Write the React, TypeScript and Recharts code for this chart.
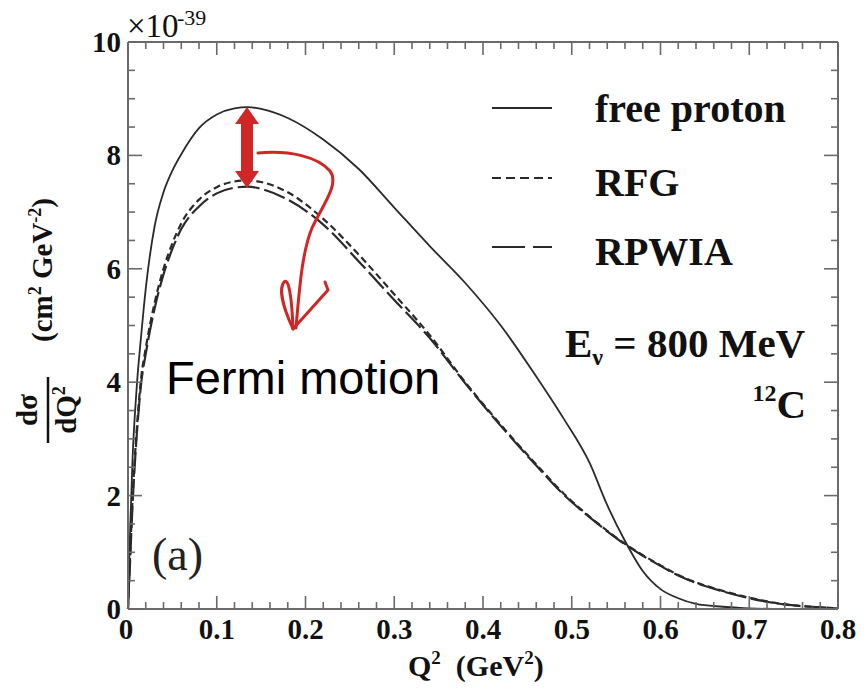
import React from 'react';
import { LineChart, Line, XAxis, YAxis } from 'recharts';

// Q^2 grid (GeV^2)
const q2 = [0, 0.002, 0.005, 0.01, 0.015, 0.02, 0.03, 0.04, 0.05, 0.06, 0.08, 0.1, 0.12, 0.135, 0.15, 0.18, 0.22, 0.26, 0.3, 0.34, 0.38, 0.42, 0.46, 0.49, 0.52, 0.54, 0.56, 0.58, 0.6, 0.62, 0.64, 0.67, 0.7, 0.74, 0.78, 0.8];
// dσ/dQ² in units of 1e-39 cm² GeV⁻²
const freeProton = [0, 1.2, 2.6, 3.95, 4.85, 5.65, 6.75, 7.35, 7.73, 8.02, 8.48, 8.72, 8.83, 8.85, 8.82, 8.66, 8.28, 7.76, 7.08, 6.4, 5.75, 5.0, 4.1, 3.38, 2.58, 1.83, 1.2, 0.67, 0.35, 0.19, 0.09, 0.04, 0.01, 0, 0, 0];
const rfg = [0, 0.8, 1.9, 3.2, 4.1, 4.6, 5.4, 6.0, 6.45, 6.8, 7.22, 7.44, 7.54, 7.56, 7.53, 7.35, 6.88, 6.25, 5.55, 4.83, 4.0, 3.25, 2.55, 2.05, 1.63, 1.38, 1.15, 0.95, 0.77, 0.6, 0.47, 0.32, 0.2, 0.08, 0.03, 0.01];
const rpwia = [0, 0.7, 1.8, 3.1, 4.0, 4.5, 5.3, 5.9, 6.35, 6.7, 7.1, 7.33, 7.43, 7.45, 7.41, 7.22, 6.78, 6.13, 5.45, 4.78, 3.98, 3.23, 2.53, 2.03, 1.62, 1.37, 1.14, 0.94, 0.76, 0.59, 0.46, 0.31, 0.19, 0.08, 0.03, 0.01];

const xTicks = Array.from({ length: 41 }, (_, i) => i / 50);
const yTicks = Array.from({ length: 21 }, (_, i) => i / 2);
const xMajorLabels = ['0', '0.1', '0.2', '0.3', '0.4', '0.5', '0.6', '0.7', '0.8'];
const yMajorLabels = ['0', '2', '4', '6', '8', '10'];

const data = q2.map((q, i) => ({ q, free: freeProton[i], rfg: rfg[i], rpwia: rpwia[i] }));

const FRAME = '#6a6a6a';
const CURVE = '#2a2a2a';
const RED = '#d02626';
const SERIF = '"Liberation Serif", "Times New Roman", serif';

const isXMajor = (v: number) => Math.abs(v * 10 - Math.round(v * 10)) < 1e-6;
const isYMajor = (v: number) => Math.abs(v / 2 - Math.round(v / 2)) < 1e-6;

const BottomTick = (props: any) => {
  const { x, y, payload } = props;
  const v = payload.value as number;
  const major = isXMajor(v);
  const y0 = y - 1;
  return (
    <g>
      <line x1={x} y1={y0} x2={x} y2={y0 - (major ? 12 : 6)} stroke={FRAME} strokeWidth={1.6} />
      {major && (
        <text x={x - (v === 0 ? 2 : 0)} y={y0 + 31} textAnchor="middle" fontFamily={SERIF} fontWeight="bold" fontSize={29} fill="#111">
          {xMajorLabels[Math.round(v * 10)]}
        </text>
      )}
    </g>
  );
};

const TopTick = (props: any) => {
  const { x, y, payload } = props;
  const major = isXMajor(payload.value);
  const y0 = y + 1;
  return <line x1={x} y1={y0} x2={x} y2={y0 + (major ? 12 : 6)} stroke={FRAME} strokeWidth={1.6} />;
};

const LeftTick = (props: any) => {
  const { x, y, payload } = props;
  const v = payload.value as number;
  const major = isYMajor(v);
  const x0 = x + 1;
  return (
    <g>
      <line x1={x0} y1={y} x2={x0 + (major ? 13 : 6)} y2={y} stroke={FRAME} strokeWidth={1.6} />
      {major && (
        <text x={x0 - 8} y={y + 10} textAnchor="end" fontFamily={SERIF} fontWeight="bold" fontSize={29} fill="#111">
          {yMajorLabels[Math.round(v / 2)]}
        </text>
      )}
    </g>
  );
};

const RightTick = (props: any) => {
  const { x, y, payload } = props;
  const major = isYMajor(payload.value);
  const x0 = x - 1;
  return <line x1={x0} y1={y} x2={x0 - (major ? 13 : 6)} y2={y} stroke={FRAME} strokeWidth={1.6} />;
};

export default function App() {
  return (
    <div style={{ position: 'absolute', left: 0, top: 0, width: 866, height: 688, background: '#fff' }}>
      <LineChart width={866} height={688} data={data} margin={{ top: 41, right: 27, bottom: 78, left: 127 }}>
        <XAxis
          xAxisId="b"
          dataKey="q"
          type="number"
          domain={[0, 0.8]}
          ticks={xTicks}
          interval={0}
          height={1}
          tickSize={0}
          tickMargin={0}
          tick={<BottomTick />}
          axisLine={{ stroke: FRAME, strokeWidth: 2 }}
          tickLine={false}
        />
        <XAxis
          xAxisId="t"
          orientation="top"
          dataKey="q"
          type="number"
          domain={[0, 0.8]}
          ticks={xTicks}
          interval={0}
          height={1}
          tickSize={0}
          tickMargin={0}
          tick={<TopTick />}
          axisLine={{ stroke: FRAME, strokeWidth: 2 }}
          tickLine={false}
        />
        <YAxis
          yAxisId="l"
          type="number"
          domain={[0, 10]}
          ticks={yTicks}
          interval={0}
          width={1}
          tickSize={0}
          tickMargin={0}
          tick={<LeftTick />}
          axisLine={{ stroke: FRAME, strokeWidth: 2 }}
          tickLine={false}
        />
        <YAxis
          yAxisId="r"
          orientation="right"
          type="number"
          domain={[0, 10]}
          ticks={yTicks}
          interval={0}
          width={1}
          tickSize={0}
          tickMargin={0}
          tick={<RightTick />}
          axisLine={{ stroke: FRAME, strokeWidth: 2 }}
          tickLine={false}
        />
        <Line xAxisId="t" yAxisId="r" dataKey="rfg" stroke="transparent" dot={false} activeDot={false} legendType="none" isAnimationActive={false} />
        <Line xAxisId="b" yAxisId="l" type="monotone" dataKey="free" stroke={CURVE} strokeWidth={1.8} dot={false} activeDot={false} isAnimationActive={false} />
        <Line xAxisId="b" yAxisId="l" type="monotone" dataKey="rfg" stroke={CURVE} strokeWidth={2.2} strokeDasharray="7 4" dot={false} activeDot={false} isAnimationActive={false} />
        <Line xAxisId="b" yAxisId="l" type="monotone" dataKey="rpwia" stroke={CURVE} strokeWidth={2.2} strokeDasharray="22 5" dot={false} activeDot={false} isAnimationActive={false} />
      </LineChart>
      <svg width={866} height={688} style={{ position: 'absolute', left: 0, top: 0, pointerEvents: 'none' }}>
        {/* exponent */}
        <text x={127} y={37} fontFamily={SERIF} fontSize={33} fill="#111">×10</text>
        <text x={177} y={25} fontFamily={SERIF} fontSize={22} fill="#111">-39</text>

        {/* y-axis title */}
        <g transform="translate(52, 270) rotate(-90)">
          <text x={0} y={0} textAnchor="middle" fontFamily={SERIF} fontWeight="bold" fontSize={29} fill="#111">
            (cm<tspan fontSize={18} dy={-11}>2</tspan><tspan dy={11}> GeV</tspan><tspan fontSize={18} dy={-11}>-2</tspan><tspan dy={11}>)</tspan>
          </text>
        </g>
        <g transform="translate(37, 410) rotate(-90)">
          <text x={0} y={0} textAnchor="middle" fontFamily={SERIF} fontWeight="bold" fontSize={29} fill="#111">dσ</text>
        </g>
        <line x1={48} y1={377} x2={48} y2={443} stroke="#111" strokeWidth={2.5} />
        <g transform="translate(76, 410) rotate(-90)">
          <text x={0} y={0} textAnchor="middle" fontFamily={SERIF} fontWeight="bold" fontSize={29} fill="#111">
            dQ<tspan fontSize={18} dy={-11}>2</tspan>
          </text>
        </g>

        {/* x-axis title */}
        <text x={408} y={676} fontFamily={SERIF} fontWeight="bold" fontSize={30} fill="#111">
          Q<tspan fontSize={19} dy={-12}>2</tspan><tspan dy={12} xmlSpace="preserve">  (GeV</tspan><tspan fontSize={19} dy={-12}>2</tspan><tspan dy={12}>)</tspan>
        </text>

        {/* legend */}
        <line x1={492} y1={108} x2={552} y2={108} stroke={CURVE} strokeWidth={1.8} />
        <line x1={492} y1={178} x2={552} y2={178} stroke={CURVE} strokeWidth={2} strokeDasharray="9 5" />
        <line x1={492} y1={247} x2={552} y2={247} stroke={CURVE} strokeWidth={2} strokeDasharray="33 8" />
        <text x={595} y={122} fontFamily={SERIF} fontWeight="bold" fontSize={40} fill="#111">free proton</text>
        <text x={595} y={196} fontFamily={SERIF} fontWeight="bold" fontSize={40} fill="#111">RFG</text>
        <text x={595} y={265} fontFamily={SERIF} fontWeight="bold" fontSize={40} fill="#111">RPWIA</text>

        {/* energy / nucleus */}
        <text x={565} y={357} fontFamily={SERIF} fontWeight="bold" fontSize={41} fill="#111">
          E<tspan fontSize={24} dy={8}>ν</tspan><tspan dy={-8}> = 800 MeV</tspan>
        </text>
        <text x={806} y={418} textAnchor="end" fontFamily={SERIF} fontWeight="bold" fontSize={41} fill="#111">
          <tspan fontSize={24} dy={-17}>12</tspan><tspan dy={17}>C</tspan>
        </text>

        {/* panel label */}
        <text x={152} y={570} fontFamily={SERIF} fontSize={46} fill="#222">(a)</text>

        {/* annotation */}
        <text x={166} y={394} fontFamily='"Liberation Sans", Arial, sans-serif' fontSize={47} fill="#000">Fermi motion</text>
        <polygon
          points="247,107 259,124 253,124 253,171 259,171 247,188 235,171 241,171 241,124 235,124"
          fill={RED}
        />
        <path
          d="M258,153 C290,150 318,157 330,171 C340,184 322,206 312,228 C303,250 300,280 296,328"
          fill="none" stroke={RED} strokeWidth={3} strokeLinecap="round"
        />
        <path
          d="M293,329 C282,305 279,288 284,282 C289,277 292,300 293,329"
          fill="none" stroke={RED} strokeWidth={3} strokeLinecap="round"
        />
        <path d="M293,329 L328,290 L325,282" fill="none" stroke={RED} strokeWidth={3} strokeLinecap="round" strokeLinejoin="round" />
      </svg>
    </div>
  );
}
